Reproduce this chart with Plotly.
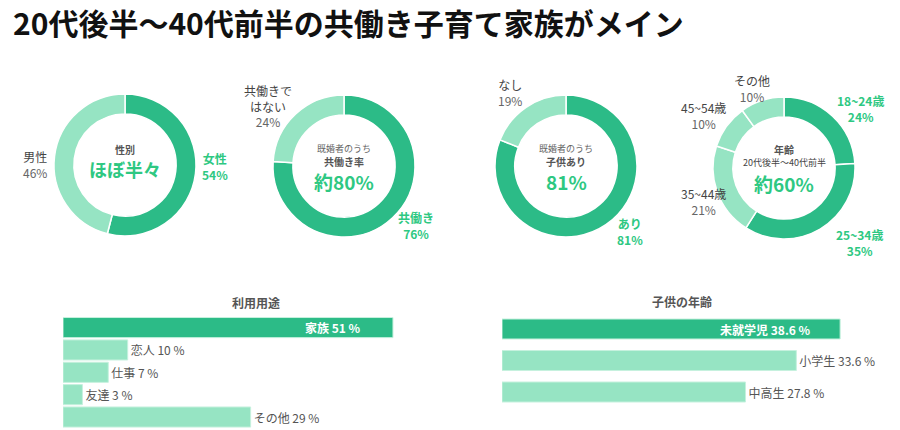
import plotly.graph_objects as go

# ---------------- data ----------------
title_text = "20代後半〜40代前半の共働き子育て家族がメイン"

gender_labels = ["女性", "男性"]
gender_values = [54, 46]

dual_labels = ["共働き", "共働きで<br>はない"]
dual_values = [76, 24]

child_labels = ["あり", "なし"]
child_values = [81, 19]

age_labels = ["18~24歳", "25~34歳", "35~44歳", "45~54歳", "その他"]
age_values = [24, 35, 21, 10, 10]

usage_title = "利用用途"
usage_labels = ["家族", "恋人", "仕事", "友達", "その他"]
usage_values = [51, 10, 7, 3, 29]

kid_title = "子供の年齢"
kid_labels = ["未就学児", "小学生", "中高生"]
kid_values = [38.6, 33.6, 27.8]

# ---------------- style ----------------
W, H = 900, 430
FONT = "Noto Sans CJK JP"
DARK = "#2cbb87"
LIGHT = "#96e4c3"
GREEN_TXT = "#2ec882"
NAME_C = "#444444"
PCT_C = "#666666"

def px_dom_x(cx, r):
    return [(cx - r) / W, (cx + r) / W]

def px_dom_y(cy, r):
    return [(H - cy - r) / H, (H - cy + r) / H]

fig = go.Figure()

pies = [
    (gender_labels, gender_values, [DARK, LIGHT], 125, 165),
    (dual_labels, dual_values, [DARK, LIGHT], 344, 166),
    (child_labels, child_values, [DARK, LIGHT], 566, 166),
    (age_labels, age_values, [DARK, DARK, LIGHT, LIGHT, LIGHT], 784, 168),
]
R = 71
for labels, values, colors, cx, cy in pies:
    fig.add_trace(go.Pie(
        labels=labels, values=values, hole=0.72, sort=False,
        direction="clockwise", rotation=0, textinfo="none",
        hoverinfo="label+percent",
        marker=dict(colors=colors, line=dict(color="white", width=1.5)),
        domain=dict(x=px_dom_x(cx, R), y=px_dom_y(cy, R)),
        showlegend=False,
    ))

annotations = []

def ann_px(text, x, y, size, color, bold=False, xanchor="center"):
    t = f"<b>{text}</b>" if bold else text
    annotations.append(dict(
        text=t, x=x / W, y=1 - y / H, xref="paper", yref="paper",
        xanchor=xanchor, yanchor="middle", showarrow=False, borderpad=0,
        font=dict(family=FONT, size=size, color=color),
    ))

def outer(labels, values, i, x, y, hi):
    # y = vertical centre of the whole label block
    name_c = GREEN_TXT if hi else NAME_C
    pct_c = GREEN_TXT if hi else PCT_C
    name = labels[i]
    pct = f"{values[i]}%"
    if hi:
        name, pct = f"<b>{name}</b>", f"<b>{pct}</b>"
    txt = (f"<span style='color:{name_c}'>{name}</span><br>"
           f"<span style='color:{pct_c}'>{pct}</span>")
    annotations.append(dict(
        text=txt, x=x / W, y=1 - y / H, xref="paper", yref="paper",
        xanchor="center", yanchor="middle", showarrow=False, borderpad=0,
        font=dict(family=FONT, size=12, color=name_c),
    ))

outer(gender_labels, gender_values, 0, 215, 166, True)
outer(gender_labels, gender_values, 1, 35, 164, False)
outer(dual_labels, dual_values, 0, 416, 225, True)
outer(dual_labels, dual_values, 1, 268, 106, False)
outer(child_labels, child_values, 0, 630, 231, True)
outer(child_labels, child_values, 1, 510, 93, False)
outer(age_labels, age_values, 0, 860, 108, True)
outer(age_labels, age_values, 1, 859, 242, True)
outer(age_labels, age_values, 2, 703, 201, False)
outer(age_labels, age_values, 3, 703, 115, False)
outer(age_labels, age_values, 4, 752, 88, False)

# centre texts
ann_px("性別", 125, 149, 10, "#555555", bold=True)
ann_px("ほぼ半々", 125, 169, 18, GREEN_TXT, bold=True)

ann_px("既婚者のうち", 344, 148, 9, "#666666")
ann_px("共働き率", 344, 161, 10, "#555555", bold=True)
ann_px("約80%", 344, 181, 19, GREEN_TXT, bold=True)

ann_px("既婚者のうち", 566, 148, 9, "#666666")
ann_px("子供あり", 566, 161, 10, "#555555", bold=True)
ann_px(f"{child_values[0]}%", 566, 181, 19, GREEN_TXT, bold=True)

ann_px("年齢", 784, 149, 10, "#555555", bold=True)
ann_px("20代後半〜40代前半", 784, 162, 9, "#444444")
ann_px("約60%", 784, 183, 19, GREEN_TXT, bold=True)

# title
annotations.append(dict(
    text=f"<b>{title_text}</b>", x=12 / W, y=1 - 22 / H, xref="paper", yref="paper",
    xanchor="left", yanchor="middle", showarrow=False, borderpad=0,
    font=dict(family=FONT, size=30, color="#111111"),
))

# bar chart titles
ann_px(usage_title, 256, 302, 12, "#555555", bold=True)
ann_px(kid_title, 682, 301, 12, "#555555", bold=True)

# ---------------- bars ----------------
def bar_trace(labels, values, xa, ya, width):
    colors = [DARK] + [LIGHT] * (len(values) - 1)
    texts = [""] + [f"{l} {v} %" for l, v in zip(labels[1:], values[1:])]
    pos = ["none"] + ["outside"] * (len(values) - 1)
    return go.Bar(
        y=labels, x=values, orientation="h", xaxis=xa, yaxis=ya, width=width,
        marker=dict(color=colors, line=dict(color="#c6f1de", width=1)),
        text=texts, textposition=pos, constraintext="none", cliponaxis=False,
        outsidetextfont=dict(family=FONT, size=12, color="#555555"),
        hoverinfo="x+y", showlegend=False,
    )

fig.add_trace(bar_trace(usage_labels, usage_values, "x", "y", 0.9))
fig.add_trace(bar_trace(kid_labels, kid_values, "x2", "y2", 0.635))

annotations.append(dict(
    text=f"<b>{usage_labels[0]} {usage_values[0]} %</b>", x=usage_values[0], y=usage_labels[0],
    xref="x", yref="y", xanchor="right", yanchor="middle", xshift=-30, showarrow=False,
    font=dict(family=FONT, size=12, color="white"),
))
annotations.append(dict(
    text=f"<b>{kid_labels[0]} {kid_values[0]} %</b>", x=kid_values[0], y=kid_labels[0],
    xref="x2", yref="y2", xanchor="right", yanchor="middle", xshift=-27, showarrow=False,
    font=dict(family=FONT, size=12, color="white"),
))

ax_common = dict(showgrid=False, zeroline=False, showticklabels=False, showline=False, ticks="")

L_R = 60
L_SCALE = 6.47
K_R = 45
K_SCALE = 8.76

fig.update_layout(
    width=W, height=H,
    margin=dict(l=0, r=0, t=0, b=0),
    paper_bgcolor="white", plot_bgcolor="white",
    font=dict(family=FONT),
    annotations=annotations,
    xaxis=dict(domain=[63 / W, (63 + L_R * L_SCALE) / W], range=[0, L_R], **ax_common),
    yaxis=dict(domain=[(H - 428.2) / H, (H - 316.4) / H], autorange="reversed", **ax_common),
    xaxis2=dict(domain=[502 / W, (502 + K_R * K_SCALE) / W], range=[0, K_R], anchor="y2", **ax_common),
    yaxis2=dict(domain=[(H - 407.75) / H, (H - 313.25) / H], autorange="reversed", anchor="x2", **ax_common),
)

fig.write_html("out.html")
